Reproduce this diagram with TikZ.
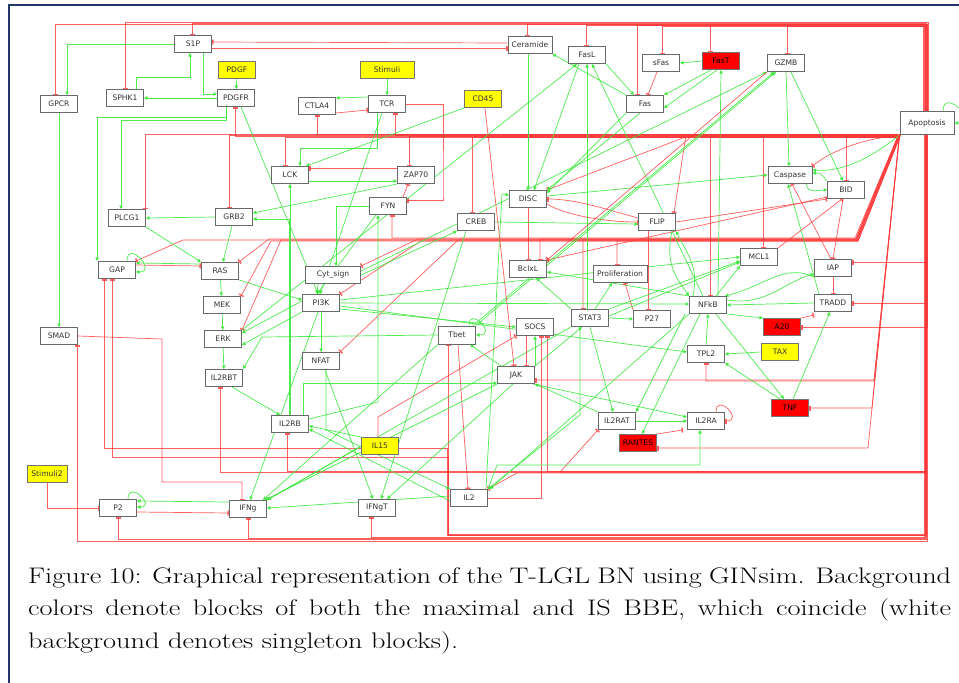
\documentclass[tikz,border=0pt]{standalone}
\usepackage{fontspec}
\usepackage{graphicx}
\newfontfamily\nodefont{DejaVu Sans}
\usetikzlibrary{arrows.meta,backgrounds}
\definecolor{gcol}{RGB}{60,232,60}
\definecolor{rcol}{RGB}{255,55,55}
\definecolor{boxgray}{RGB}{105,105,105}
\definecolor{framenavy}{RGB}{35,55,105}
\definecolor{nodeyellow}{RGB}{255,255,0}
\definecolor{nodered}{RGB}{255,0,0}
\newlength\capW
\newsavebox\capbox
\newcommand\capfont{\fontsize{22.5}{32}\selectfont}
\begin{document}
\sbox\capbox{\capfont background denotes singleton blocks).}%
\setlength\capW{\wd\capbox}%
\pgfmathsetmacro\capS{430/\capW}%
\pgfmathsetmacro\capL{923/\capS}%
\begin{tikzpicture}[x=1pt,y=-1pt,
  box/.style={draw=boxgray, line width=1pt, fill=white, minimum width=37pt,
    minimum height=17pt, inner sep=0pt, text=black!80,
    font={\nodefont\fontsize{7.6}{9}\selectfont}},
  yelbox/.style={fill=nodeyellow, draw=black!55},
  redbox/.style={fill=nodered, draw=black!55, text=black},
  act/.style={draw=gcol, line width=0.7pt, opacity=.9,
    -{Triangle[length=3.5pt,width=3.5pt]}},
  inh/.style={draw=rcol, line width=0.7pt, opacity=.8,
    -{Bar[width=5pt,line width=1.5pt]}}]
\useasboundingbox (0,0) rectangle (959,683);

% ---------------- nodes ----------------
\node[box] (S1P) at (193,44) {S1P};
\node[box,minimum width=44pt] (Ceramide) at (530,45) {Ceramide};
\node[box] (FasL) at (587,55) {FasL};
\node[box] (sFas) at (661,63) {sFas};
\node[box,redbox] (FasT) at (721,61) {FasT};
\node[box] (GZMB) at (786,63) {GZMB};
\node[box,yelbox] (PDGF) at (237,70) {PDGF};
\node[box,yelbox,minimum width=54pt] (Stimuli) at (387,70) {Stimuli};
\node[box] (GPCR) at (59,104) {GPCR};
\node[box] (SPHK1) at (125,98) {SPHK1};
\node[box] (PDGFR) at (236,98) {PDGFR};
\node[box] (CTLA4) at (317,106) {CTLA4};
\node[box] (TCR) at (387,104) {TCR};
\node[box,yelbox] (CD45) at (483,99) {CD45};
\node[box] (Fas) at (645,104) {Fas};
\node[box,minimum width=54pt,minimum height=23pt] (Apoptosis) at (927,123) {Apoptosis};
\node[box] (LCK) at (290,175) {LCK};
\node[box] (ZAP70) at (416,175) {ZAP70};
\node[box,minimum width=44pt] (Caspase) at (790,175) {Caspase};
\node[box] (BID) at (846,190) {BID};
\node[box] (DISC) at (528,199) {DISC};
\node[box] (FYN) at (388,206) {FYN};
\node[box] (CREB) at (476,222) {CREB};
\node[box] (FLIP) at (657,222) {FLIP};
\node[box] (PLCG1) at (127,218) {PLCG1};
\node[box] (GRB2) at (234,217) {GRB2};
\node[box] (GAP) at (117,270) {GAP};
\node[box] (RAS) at (220,271) {RAS};
\node[box,minimum width=55pt] (Cyt) at (333,275) {Cyt\_sign};
\node[box] (BclxL) at (528,269) {BclxL};
\node[box,minimum width=54pt] (Prolif) at (620,274) {Proliferation};
\node[box] (MCL1) at (759,257) {MCL1};
\node[box] (IAP) at (833,268) {IAP};
\node[box] (MEK) at (222,305) {MEK};
\node[box] (PI3K) at (321,303) {PI3K};
\node[box] (NFkB) at (708,305) {NFkB};
\node[box] (TRADD) at (833,303) {TRADD};
\node[box] (SMAD) at (59,336) {SMAD};
\node[box] (ERK) at (223,339) {ERK};
\node[box] (STAT3) at (590,318) {STAT3};
\node[box] (P27) at (652,319) {P27};
\node[box] (SOCS) at (535,327) {SOCS};
\node[box,minimum height=18pt] (Tbet) at (457,335) {Tbet};
\node[box,redbox] (A20) at (782,327) {A20};
\node[box] (NFAT) at (321,361) {NFAT};
\node[box] (TPL2) at (706,354) {TPL2};
\node[box,yelbox] (TAX) at (780,352) {TAX};
\node[box] (IL2RBT) at (224,378) {IL2RBT};
\node[box] (JAK) at (516,375) {JAK};
\node[box] (IL2RB) at (290,424) {IL2RB};
\node[box,redbox] (TNF) at (790,408) {TNF};
\node[box] (IL2RAT) at (617,421) {IL2RAT};
\node[box] (IL2RA) at (706,421) {IL2RA};
\node[box,yelbox] (IL15) at (380,446) {IL15};
\node[box,redbox] (RANTES) at (638,443) {RANTES};
\node[box,yelbox,minimum width=40pt] (Stimuli2) at (47,474) {Stimuli2};
\node[box] (P2) at (118,508) {P2};
\node[box] (IFNg) at (248,509) {IFNg};
\node[box] (IFNgT) at (377,508) {IFNgT};
\node[box] (IL2) at (469,498) {IL2};

% ---------------- caption ----------------
\node[anchor=base west, inner sep=0pt] (capA) at (28,583)
  {\scalebox{\capS}[1]{\capfont\makebox[\capL pt][s]{Figure 10: Graphical representation of the T-LGL BN using GINsim. Background}}};
\node[anchor=base west, inner sep=0pt] (capB) at (28,615.5)
  {\scalebox{\capS}[1]{\capfont\makebox[\capL pt][s]{colors denote blocks of both the maximal and IS BBE, which coincide (white}}};
\node[anchor=base west, inner sep=0pt] (capC) at (28,648)
  {\scalebox{\capS}[1]{\capfont background denotes singleton blocks).}};

\begin{scope}[on background layer]
\fill[white] (0,0) rectangle (959,683);
\draw[framenavy, line width=1.2pt] (9,683) -- (9,5) -- (959,5);

% ===== Apoptosis feedback, top route =====
\draw[inh] (Apoptosis.north) -- (927,24) -| ([xshift=-4pt]GPCR.north);
\draw[inh] ([xshift=1pt]Apoptosis.north) -- (928,22) -| (SPHK1.north);
\draw[inh] ([xshift=-1pt]Apoptosis.north) -- (926,23) -| ([xshift=-1pt]S1P.north);
\draw[inh] ([xshift=-2pt]Apoptosis.north) -- (925,24) -| ([xshift=-3pt]Ceramide.north);
\draw[inh] ([xshift=-3pt]Apoptosis.north) -- (924,25) -| ([xshift=-1pt]FasL.north);
\draw[inh] ([xshift=-1pt]Apoptosis.north) -- (926,25) -| ([xshift=-8pt]Fas.north);
\draw[inh] ([xshift=-4pt]Apoptosis.north) -- (923,26) -| ([xshift=1pt]sFas.north);
\draw[inh] (Apoptosis.north) -- (927,24) -| ([xshift=-11pt]FasT.north);
\draw[inh] ([xshift=-2pt]Apoptosis.north) -- (925,26) -| ([xshift=1pt]GZMB.north);

% ===== Apoptosis feedback, right and bottom route =====
\draw[inh] ([xshift=-2pt]Apoptosis.south) |- ([yshift=6pt]IAP.east);
\draw[inh] ([xshift=-1pt]Apoptosis.south) |- (TRADD.east);
\draw[inh] (Apoptosis.south) |- (A20.east);
\draw[inh] ([xshift=-3pt]Apoptosis.south) -- (924,537) -| ([xshift=-6pt]IFNgT.south);
\draw[inh] ([xshift=-2pt]Apoptosis.south) -- (925,538) -| (IFNg.south);
\draw[inh] ([xshift=-1pt]Apoptosis.south) -- (926,539) -| (P2.south);
\draw[inh] (Apoptosis.south) -- (927,541) -| ([xshift=18pt]SMAD.south);
\draw[inh] ([xshift=-2pt]Apoptosis.south) -- (925,535) -| ([xshift=-9pt]Tbet.south);
\draw[inh] ([xshift=-1pt]Apoptosis.south) -- (926,534) -- (448,534) -- (448,457) -| ([xshift=-5pt]GAP.south);
\draw[inh] ([xshift=-1pt]Apoptosis.south) -- (926,535) -- (447,535) -- (447,448) -| ([xshift=-13pt]GAP.south);
\draw[inh] ([xshift=-1pt]Apoptosis.south) -- (926,471) -| ([xshift=12pt]SOCS.south);
\draw[inh] ([xshift=-2pt]Apoptosis.south) -- (925,472) -| ([xshift=-4pt]IL2RBT.south);
\draw[inh] ([xshift=-2pt]Apoptosis.south) -- (925,471) -| ([xshift=-3pt]IL2RB.south);
\draw[inh] ([xshift=-1pt]Apoptosis.south) -- (926,472) -- (560,472) -- (IL2RAT.south west);
\draw[inh] ([xshift=-1pt]Apoptosis.south) -- (926,473) -- (517,473) -- (IL2.north east);

% ===== Apoptosis feedback, slanted route =====
\draw[inh] (Apoptosis.south west) -- (868,448) -- ([yshift=-5pt]RANTES.east);
\draw[inh] (Apoptosis.south west) -- (872,408) -- (TNF.east);
\draw[inh] (Apoptosis.south west) -- (874,381) -| (TPL2.south);
\draw[inh] (Apoptosis.south west) -- (874,380) -- ([yshift=-5pt]JAK.east);

% ===== Apoptosis feedback, upper horizontal route =====
\draw[inh] ([yshift=1pt]Apoptosis.south west) -| ([xshift=-1pt]PLCG1.north east);
\draw[inh] (Apoptosis.south west) -| ([xshift=-5pt]GRB2.north);
\draw[inh] ([yshift=-1pt]Apoptosis.south west) -| ([xshift=-1pt]PDGFR.south);
\draw[inh] ([yshift=-2pt]Apoptosis.south west) -| ([xshift=-5pt]LCK.north);
\draw[inh] ([yshift=1pt]Apoptosis.south west) -| (CTLA4.south);
\draw[inh] (Apoptosis.south west) -| ([xshift=8pt]TCR.south);
\draw[inh] ([yshift=-1pt]Apoptosis.south west) -| ([xshift=-7pt]ZAP70.north);
\draw[inh] ([yshift=-2pt]Apoptosis.south west) -| ([xshift=-4pt]CREB.north);
\draw[inh] ([yshift=-1pt]Apoptosis.south west) -| ([xshift=2pt]NFkB.north);
\draw[inh] (Apoptosis.south west) -| ([xshift=4pt]MCL1.north);
\draw[inh] ([yshift=-2pt]Apoptosis.south west) -| (BID.north);
\draw[inh] (Apoptosis.south west) -- (686,135) -- ([xshift=-2pt]FLIP.north east);
\draw[inh] (Apoptosis.south west) -- (688,136) -- (DISC.north east);

% ===== Apoptosis feedback, lower horizontal route =====
\draw[inh] (Apoptosis.south west) -- (857,240) -- (183,240) -- (GAP.north east);
\draw[inh] ([xshift=-1pt]Apoptosis.south west) -- (856,239) -- (269,239) -- (RAS.north east);
\draw[inh] ([xshift=1pt]Apoptosis.south west) -- (858,241) -- (271,241) -- (MEK.north east);
\draw[inh] (Apoptosis.south west) -- (857,240) -- (281,240) -- (ERK.north east);
\draw[inh] ([xshift=-1pt]Apoptosis.south west) -- (855,238) -| ([xshift=4pt]FYN.south);
\draw[inh] ([xshift=-1pt]Apoptosis.south west) -- (856,239) -- (418,239) -- (Cyt.north east);
\draw[inh] ([xshift=1pt]Apoptosis.south west) -- (858,241) -- (421,241) -- (PI3K.north east);
\draw[inh] (Apoptosis.south west) -- (857,240) -- (458,240) -- (NFAT.north east);
\draw[inh] ([xshift=-1pt]Apoptosis.south west) -- (856,239) -| ([xshift=12pt]BclxL.north);
\draw[inh] (Apoptosis.south west) -- (857,240) -| ([xshift=-7pt]STAT3.north);
\draw[inh] ([xshift=1pt]Apoptosis.south west) -- (858,241) -| ([xshift=-3pt]Prolif.north);

% ===== Apoptosis / Caspase / BID =====
\draw[inh] (Apoptosis.south west) .. controls +(-45,5) and +(15,-12) .. (Caspase.north east);
\draw[act] (Apoptosis.south west) .. controls +(-30,24) and +(30,2) .. ([yshift=-4pt]Caspase.north east);
\draw[act] ([xshift=16pt]Apoptosis.north) .. controls +(0,-24) and +(26,0) .. (Apoptosis.east);
\draw[act] (GZMB.south) -- ([xshift=-1pt]Caspase.north);
\draw[act] ([xshift=5pt]GZMB.south) -- ([xshift=-3pt]BID.north);
\draw[act] (BID.north west) .. controls +(-6,-8) and +(8,0) .. ([yshift=2pt]Caspase.east);
\draw[act] ([xshift=-6pt]Caspase.south east) .. controls +(0,10) and +(-8,0) .. (BID.west);
\draw[inh] ([xshift=-3pt]BID.south) -- (IAP.north);
\draw[inh] ([xshift=-2pt]IAP.north) -- ([xshift=2pt]Caspase.south);
\draw[act] ([xshift=-14pt]TRADD.north) -- ([xshift=-2pt]Caspase.south);
\draw[inh] (IAP.south) -- (TRADD.north);
\draw[inh] (MCL1.north east) -- ([xshift=-4pt]BID.south);
\draw[inh] (FLIP.east) -- (BID.south west);
\draw[inh] ([yshift=2pt]BID.south west) -- (BclxL.north east);
\draw[act] ([yshift=3pt]DISC.east) -- (Caspase.west);

% ===== sphingolipid / growth factor module =====
\draw[act] (S1P.west) -| ([xshift=8pt]GPCR.north);
\draw[act] ([xshift=11pt]SPHK1.north) -- ++(0,-12) -| ([xshift=-3pt]S1P.south);
\draw[act] ([xshift=10pt]S1P.south) |- ([yshift=4pt]PDGFR.west);
\draw[act] (PDGF) -- (PDGFR);
\draw[act] (PDGFR.west) -- (SPHK1.east);
\draw[inh] ([yshift=2pt]Ceramide.west) -- ([yshift=2pt]S1P.east);
\draw[inh] ([yshift=-4pt]S1P.east) -- ([yshift=-3pt]Ceramide.west);
\draw[act] (GPCR) -- (SMAD);
\draw[act] ([xshift=-10pt]PDGFR.south) -- ++(0,10) -| ([xshift=-20pt]GAP.north);
\draw[act] ([xshift=-10pt]PDGFR.south) -- ++(0,13) -| ([xshift=-6pt]PLCG1.north);
\draw[act] ([xshift=5pt]PDGFR.south) -- ([xshift=-3pt]PI3K.north);

% ===== TCR module =====
\draw[act] (Stimuli) -- (TCR);
\draw[act] ([yshift=7pt]TCR.west) -- ([yshift=8pt]CTLA4.east);
\draw[inh] ([yshift=-7pt]CTLA4.east) -- ([yshift=-6pt]TCR.west);
\draw[inh] (TCR.east) -| (443,195) |- ([yshift=6pt]FYN.east);
\draw[act] ([xshift=-10pt]TCR.south) -- (377,148) -| ([xshift=10pt]LCK.north);
\draw[act] ([xshift=-5pt]TCR.south) -- ([xshift=-1pt]PI3K.north);
\draw[act] (CD45.south west) -- ([xshift=-3pt]LCK.north east);
\draw[inh] ([yshift=7pt]ZAP70.west) -- ([yshift=7pt]LCK.east);
\draw[act] ([yshift=-6pt]LCK.east) -- ([yshift=-6pt]ZAP70.west);
\draw[act] (ZAP70.south west) -- ([yshift=4pt]GRB2.east);
\draw[inh] ([xshift=-4pt]FYN.north east) -- ([xshift=-8pt]ZAP70.south);
\draw[act] (FYN.west) -| ([xshift=3pt]Cyt.north);
\draw[act] ([xshift=-12pt]FYN.south) -- ([xshift=-4pt]PI3K.north);
\draw[act] ([yshift=5pt]IL2RB.east) -- (378,402) -- ([xshift=-10pt]FYN.south);
\draw[act] (IL2RB.north) -- (LCK.south);
\draw[act] ([xshift=-1pt]IL2RB.north) |- ([yshift=-2pt]GRB2.east);
\draw[act] ([xshift=13pt]IL2RB.north) |- ([yshift=-8pt]JAK.west);
\draw[act] (Cyt.east) -- (CREB.south west);
\draw[act] ([xshift=-15pt]Cyt.south) -- ([xshift=-4pt]PI3K.north);
\draw[act] ([yshift=4pt]Cyt.east) -- (GZMB.south west);

% ===== MAPK module =====
\draw[act] (GRB2.west) -- (PLCG1.east);
\draw[act] (PLCG1.south east) -- (RAS.north west);
\draw[act] ([xshift=-2pt]GRB2.south) -- ([xshift=3pt]RAS.north);
\draw[act] ([yshift=7pt]RAS.west) -- ([yshift=7pt]GAP.east);
\draw[inh] ([yshift=5pt]GAP.east) -- ([yshift=5pt]RAS.west);
\draw[act] ([xshift=10pt]GAP.north) .. controls +(0,-22) and +(22,0) .. ([yshift=-2pt]GAP.east);
\draw[act] (RAS) -- (MEK);
\draw[act] (MEK) -- (ERK);
\draw[act] (ERK) -- (IL2RBT);
\draw[act] (RAS.south east) -- ([yshift=3pt]PI3K.west);
\draw[act] ([yshift=2pt]PI3K.west) -- ([yshift=-3pt]ERK.north east);
\draw[act] (PI3K.south west) -- ([yshift=-6pt]ERK.east);
\draw[act] (ERK.north east) -- ([xshift=-10pt]FasL.south);
\draw[act] (PI3K) -- (NFAT);
\draw[act] (PI3K.east) -- ([yshift=1pt]NFkB.west);
\draw[act] ([yshift=-3pt]PI3K.east) -- ([yshift=2pt]TPL2.west);
\draw[act] ([yshift=3pt]PI3K.east) -- (MCL1.west);
\draw[act] ([yshift=-6pt]PI3K.east) -- (SOCS.west);
\draw[act] ([xshift=-3pt]PI3K.south) -- ([xshift=2pt]IFNg.north);

% ===== Fas / DISC module =====
\draw[act] ([xshift=-2pt]Ceramide.south) -- (DISC.north);
\draw[act] (Fas.north west) -- (Ceramide.south east);
\draw[act] (FasL.south east) -- ([xshift=8pt]Fas.north west);
\draw[act] (FasT.west) -- (sFas.east);
\draw[inh] ([xshift=-4pt]sFas.south) -- ([xshift=3pt]Fas.north);
\draw[act] ([xshift=-10pt]FasT.south) -- (Fas.north east);
\draw[act] ([xshift=-4pt]FasT.south) -- ([yshift=-4pt]Fas.east);
\draw[act] ([xshift=10pt]NFkB.north) -- (FasT.south);
\draw[act] ([xshift=-5pt]Fas.south) -- (DISC.north east);
\draw[act] (Fas.south west) -- ([yshift=-3pt]DISC.north east);
\draw[act] ([xshift=-8pt]FasL.south) -- ([xshift=6pt]DISC.north);
\draw[act] ([xshift=-3pt]STAT3.north) -- (FasL.south);
\draw[act] ([xshift=-5pt]NFkB.north) -- ([xshift=5pt]FasL.south);
\draw[inh] ([yshift=4pt]FLIP.west) .. controls +(-30,-8) and +(30,0) .. (DISC.east);
\draw[inh] ([yshift=-5pt]DISC.east) .. controls +(20,12) and +(-30,0) .. (FLIP.west);
\draw[inh] (DISC.south) -- (BclxL.north);
\draw[act] (CREB.east) -- ([yshift=-2pt]FLIP.west);
\draw[act] ([xshift=-2pt]IL2.north east) -- (502,194) -- ([yshift=4pt]DISC.west);
\draw[inh] ([xshift=-9pt]FLIP.south) -- ([xshift=-4pt]P27.north);
\draw[act] (Tbet.north east) -- ([xshift=-10pt]GZMB.south);
\draw[act] ([xshift=-3pt]Tbet.north east) -- ([xshift=-12pt]GZMB.south);
\draw[inh] (GZMB.south west) -- (BclxL.north east);

% ===== NFkB module =====
\draw[act] (NFkB.north west) -- ([yshift=-3pt]BclxL.east);
\draw[act] ([xshift=-4pt]FLIP.south east) .. controls +(-8,35) and +(-10,-15) .. (NFkB.north west);
\draw[act] ([xshift=4pt]NFkB.north west) .. controls +(6,-30) and +(12,25) .. (FLIP.south east);
\draw[act] ([xshift=8pt]NFkB.north) -- (MCL1.south west);
\draw[act] (IAP.south west) .. controls +(-30,-14) and +(40,-10) .. ([xshift=-2pt]NFkB.north east);
\draw[act] ([yshift=5pt]NFkB.east) .. controls +(40,6) and +(-30,8) .. ([yshift=-6pt]IAP.west);
\draw[act] (TRADD.west) -- (NFkB.east);
\draw[act] (TPL2.north) -- (NFkB.south);
\draw[act] (TAX.west) -- (TPL2.east);
\draw[act] (NFkB.south east) -- (A20.north west);
\draw[inh] (A20.north east) -- ([yshift=-3pt]TRADD.south west);
\draw[act] ([xshift=3pt]TNF.north) -- ([xshift=-3pt]TRADD.south);
\draw[act] ([xshift=8pt]NFkB.south) -- ([xshift=-6pt]TNF.north);
\draw[act] ([xshift=-10pt]TNF.north) -- (TPL2.south east);
\draw[act] ([xshift=-4pt]NFkB.south west) -- (IL2RAT.north east);
\draw[act] ([xshift=-8pt]NFkB.south) -- ([xshift=4pt]RANTES.north);
\draw[act] (NFkB.south west) -- ([xshift=2pt]IL2.north east);

% ===== STAT3 / JAK module =====
\draw[act] (STAT3.east) -- (P27.west);
\draw[act] (STAT3.north west) -- ([xshift=8pt]BclxL.south);
\draw[act] ([xshift=5pt]STAT3.north) -- ([xshift=-8pt]Prolif.south);
\draw[inh] (P27.north west) -- ([xshift=5pt]Prolif.south);
\draw[act] (STAT3.north east) -- ([yshift=-4pt]MCL1.west);
\draw[act] ([yshift=2pt]STAT3.east) -- ([yshift=-5pt]MCL1.west);
\draw[act] (STAT3.south) -- ([xshift=-4pt]IL2RAT.north);
\draw[act] ([xshift=-10pt]STAT3.south) -- (580,415) -- (IL2.north east);
\draw[act] (STAT3.south west) -- (IFNg.north east);
\draw[inh] ([xshift=-9pt]SOCS.south) -- ([xshift=10pt]JAK.north);
\draw[act] ([xshift=19pt]JAK.north) -- (SOCS.south);
\draw[inh] ([xshift=2pt]CD45.south) -- ([xshift=-2pt]JAK.north);
\draw[act] (JAK.north east) -- ([xshift=-8pt]STAT3.south);
\draw[inh] (IL2.east) -| ([xshift=6pt]SOCS.south);
\draw[inh] ([xshift=-2pt]IL15.north) -- (378,417) -- (SOCS.south west);
\draw[act] ([xshift=4pt]JAK.north west) -- ([xshift=-6pt]Tbet.south east);
\draw[act] ([xshift=12pt]Tbet.north) .. controls +(0,-20) and +(22,0) .. (Tbet.east);
\draw[inh] ([xshift=1pt]Tbet.south) -- (463,420) -- ([xshift=-1pt]IL2.north);
\draw[act] (Tbet.west) -- (262,337) -- (IL2RBT.north east);
\draw[act] (Tbet.south west) -- ([xshift=-4pt]IFNg.north east);
\draw[act] (JAK.south west) -- ([xshift=-2pt]IFNg.north east);
\draw[act] ([xshift=-3pt]JAK.south) -- ([xshift=10pt]IFNgT.north);
\draw[act] ([xshift=-10pt]CREB.south) -- ([xshift=4pt]IFNgT.north);
\draw[act] ([xshift=4pt]NFAT.south) -- ([xshift=-4pt]IFNgT.north);
\draw[act] ([xshift=5pt]NFAT.south) -- (326,430) -- (IL2.north west);

% ===== IL2 receptor module =====
\draw[act] ([xshift=8pt]IL2RBT.south) -- ([xshift=-10pt]IL2RB.north);
\draw[act] (IL15.north west) -- ([yshift=-2pt]IL2RB.east);
\draw[act] ([yshift=-3pt]IL2.west) -- ([yshift=-5pt]IL2RB.east);
\draw[act] (IL15.west) -- (IFNg.north east);
\draw[act] ([yshift=2pt]IL2.west) -- ([yshift=1pt]IFNg.east);
\draw[act] (IL2RAT.east) -- (IL2RA.west);
\draw[act] (IL2RAT.north west) -- (JAK.south east);
\draw[act] ([xshift=-2pt]JAK.south east) -- ([yshift=4pt]IL2RA.west);
\draw[act] (IL2.north east) -- (497,465) -| ([xshift=-6pt]IL2RA.south);
\draw[inh] (RANTES.north east) -- ([xshift=-4pt]IL2RA.south west);
\draw[inh] ([xshift=10pt]IL2RA.north) .. controls +(0,-20) and +(20,0) .. (IL2RA.east);

% ===== IFNg module =====
\draw[inh] (SMAD.east) -- (162,339) -- (162,482) -| ([xshift=-6pt]IFNg.north);
\draw[inh] ([yshift=-4pt]P2.east) -- ([yshift=-4pt]IFNg.west);
\draw[act] ([yshift=7pt]IFNg.west) -- ([yshift=7pt]P2.east);
\draw[act] ([xshift=10pt]P2.north) .. controls +(0,-20) and +(20,0) .. ([yshift=1pt]P2.east);
\draw[inh] (Stimuli2.south) |- (P2.west);
\end{scope}
\end{tikzpicture}
\end{document}
